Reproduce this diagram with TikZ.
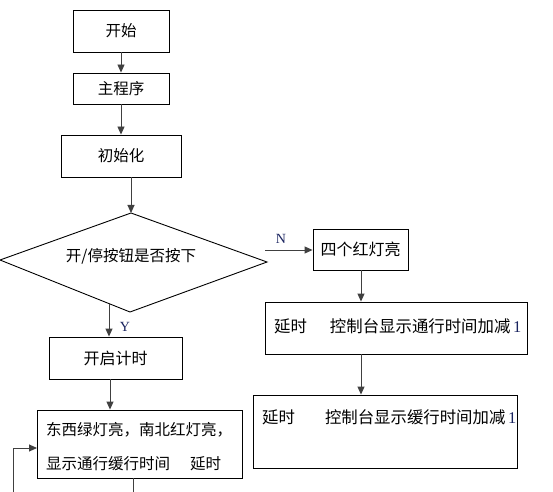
\documentclass[tikz,border=0pt]{standalone}
\usepackage{fontspec}
\setmainfont{Noto Sans CJK SC}
\newfontfamily\tms{Liberation Serif}
\usetikzlibrary{arrows.meta}
\definecolor{lab}{RGB}{25,35,95}
\begin{document}
\begin{tikzpicture}[x=1bp,y=-1bp,
  box/.style={draw=black, line width=0.9bp, inner sep=0pt, font=\fontsize{15.5bp}{18bp}\selectfont},
  txt/.style={inner sep=0pt, font=\fontsize{15.5bp}{18bp}\selectfont},
  wide/.style={inner sep=0pt, font=\fontsize{16.4bp}{18bp}\selectfont},
  lbl/.style={inner sep=0pt, text=lab, font=\tms\fontsize{14bp}{15bp}\selectfont},
  arr/.style={draw=black!75, line width=0.9bp, -{Triangle[width=7bp,length=8bp]}},
  ln/.style={draw=black!75, line width=0.9bp}]
\useasboundingbox[fill=white] (0,0) rectangle (553,492);
% left column
\node[box, minimum width=96bp, minimum height=42bp] (start) at (121,31) {开始};
\node[box, minimum width=96bp, minimum height=31bp] (main) at (121,88.5) {主程序};
\node[box, minimum width=120bp, minimum height=42bp] (init) at (121,156) {初始化};
% diamond
\coordinate (dt) at (131,213);
\coordinate (dl) at (0,260);
\coordinate (dr) at (267,262);
\coordinate (db) at (130,312);
\draw[line width=0.9bp] (dt) -- (dr) -- (db) -- (dl) -- cycle;
\node[txt] (dtext) at (131,256) {开/停按钮是否按下};
\coordinate (dy) at (109,303.6);
\coordinate (dn) at (265,250);
\node[box, minimum width=133bp, minimum height=42bp] (timer) at (115.5,358) {\fontsize{16bp}{18bp}\selectfont 开启计时};
\node[box, minimum width=205bp, minimum height=68bp] (green) at (139.5,444) {};
\node[txt, anchor=west, align=left] (greent) at (46,447) {东西绿灯亮，南北红灯亮，\\[16bp]显示通行缓行时间\hspace{20bp}延时};
\coordinate (gout) at (133,492);
\coordinate (fb) at (13,492);
\coordinate (fbin) at (37,448);
% right column
\node[box, minimum width=95bp, minimum height=41bp] (red) at (360.5,249.5) {\fontsize{16bp}{18bp}\selectfont 四个红灯亮};
\node[box, minimum width=262bp, minimum height=52bp] (b2) at (396,328) {};
\node[wide, anchor=west] (b2t) at (274,326) {延时\hspace{23bp}控制台显示通行时间加减\,{\tms\color{lab}1}};
\node[box, minimum width=264bp, minimum height=73bp] (b3) at (385,431.5) {};
\node[wide, anchor=west] (b3t) at (262,417) {延时\hspace{30bp}控制台显示缓行时间加减\,{\tms\color{lab}1}};
% labels
\node[lbl] (ylab) at (125,327) {Y};
\node[lbl] (nlab) at (281,239) {N};
% connectors
\draw[arr] (start) -- (main);
\draw[arr] (main) -- (init);
\draw[arr] (init.south -| dt) -- (dt);
\draw[arr] (dy) -- (dy |- timer.north);
\draw[arr] (timer.south -| 110,0) -- (green.north -| 110,0);
\draw[ln] (green.south -| gout) -- (gout);
\draw[arr] (fb) |- (fbin);
\draw[arr] (dn) -- (red.west |- dn);
\draw[arr] (red.south -| 361,0) -- (b2.north -| 361,0);
\draw[arr] (b2.south -| 361,0) -- (b3.north -| 361,0);
\end{tikzpicture}
\end{document}
